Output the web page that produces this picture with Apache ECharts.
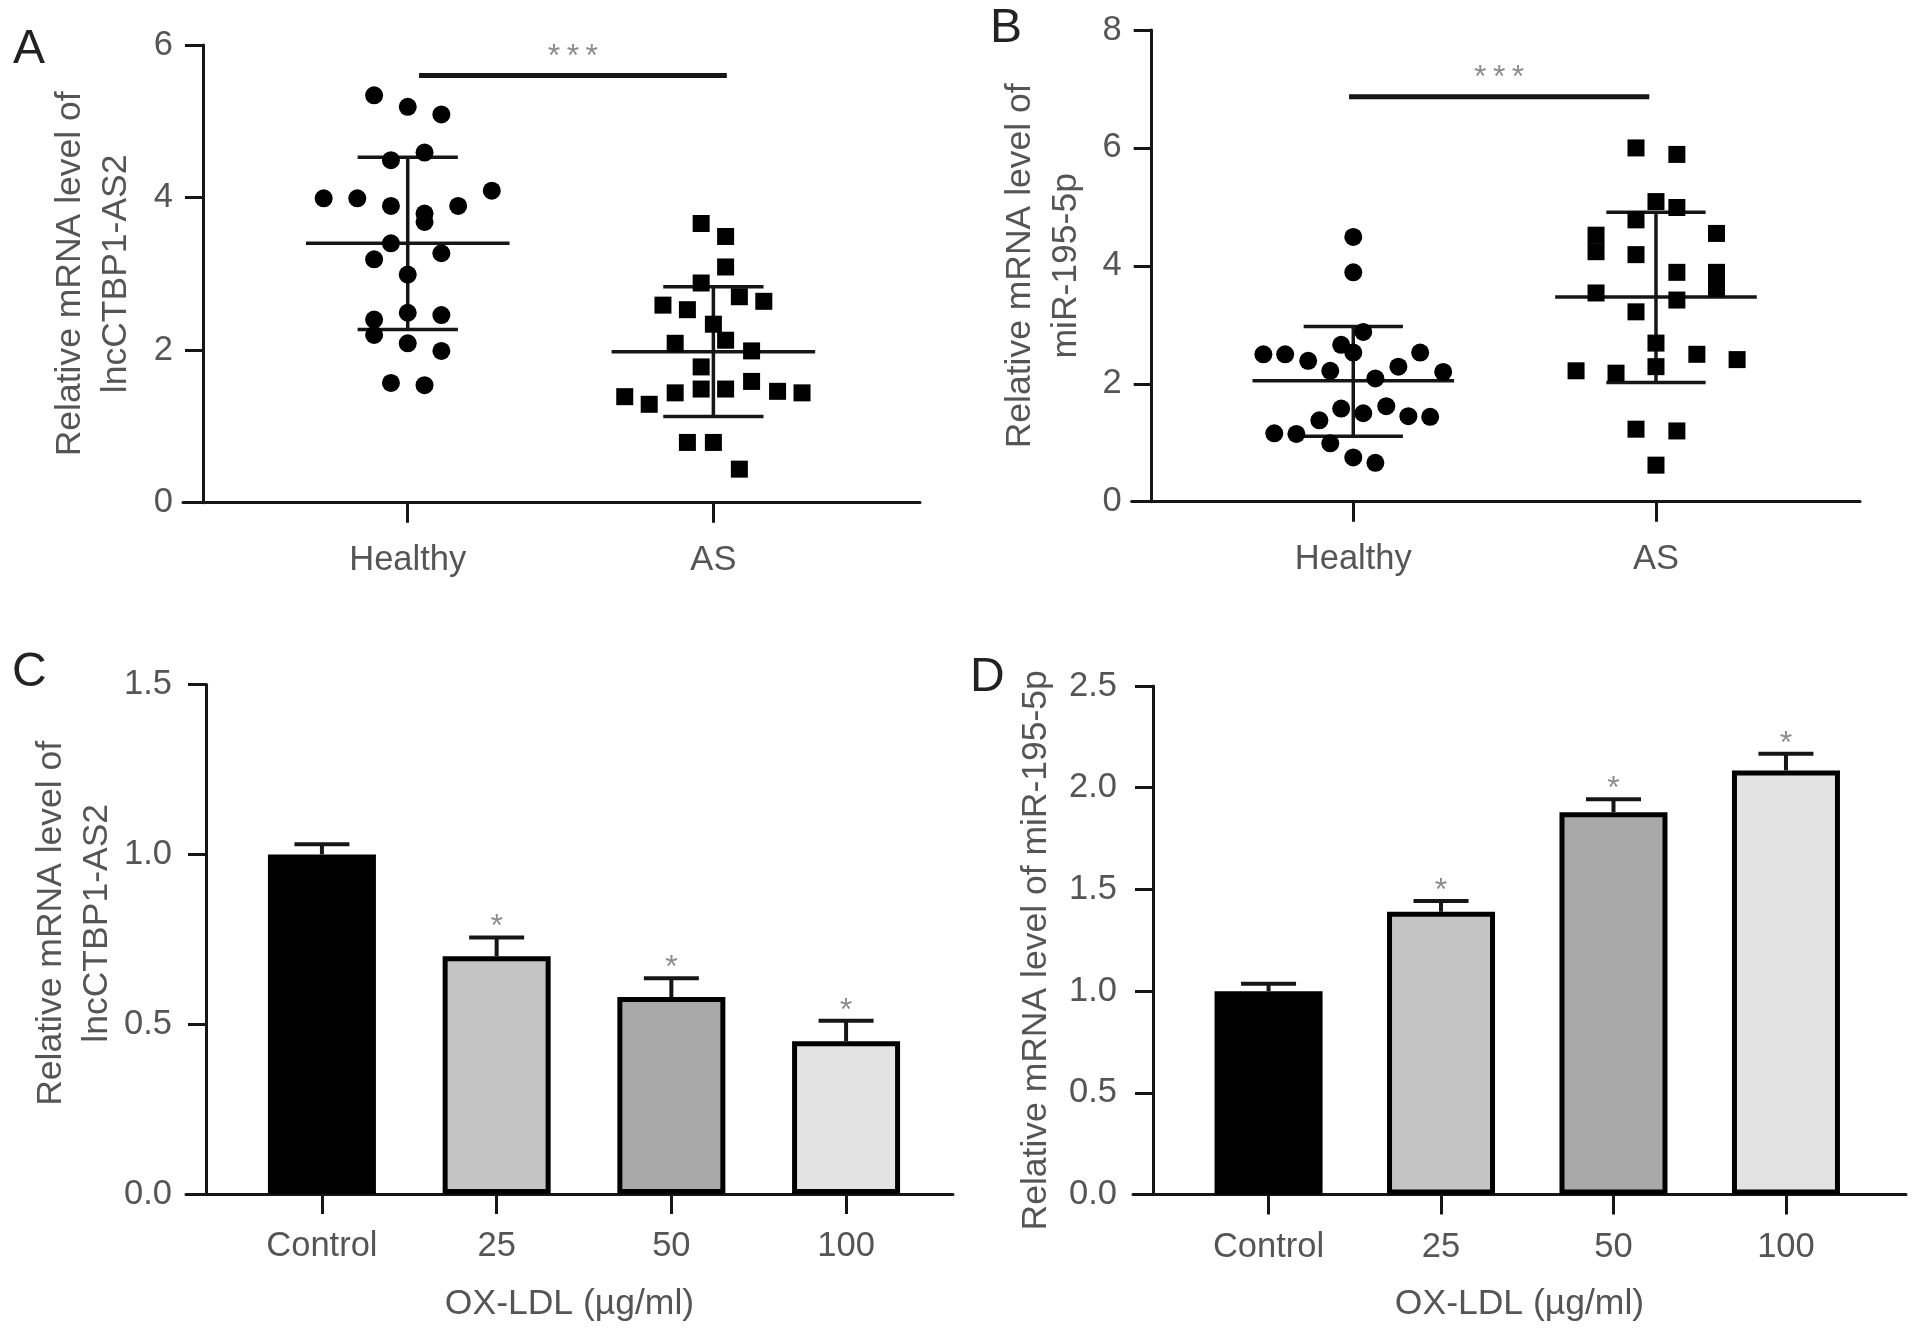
<!DOCTYPE html>
<html><head><meta charset="utf-8">
<script src="https://cdn.jsdelivr.net/npm/echarts@6/dist/echarts.min.js"></script>
<style>html,body{margin:0;padding:0;background:#fff}#c{width:1913px;height:1336px}</style>
</head><body><div id="c"></div>
<script>
// ---------- data ----------
const groupNames = ['Healthy', 'AS'];

// Panel A: lncCTBP1-AS2 (x = group position incl. jitter, y = value)
const aHealthyX = [0.89,1.00,1.11,1.055,0.945,0.725,0.835,1.275,0.945,1.165,1.055,1.055,0.945,0.89,1.11,1.00,1.00,1.11,0.89,0.89,1.00,1.11,0.945,1.055];
const aHealthyY = [5.34,5.19,5.09,4.59,4.49,3.99,3.99,4.09,3.89,3.89,3.79,3.68,3.40,3.19,3.27,2.99,2.49,2.46,2.40,2.20,2.09,1.99,1.57,1.54];
const aASX = [1.96,2.04,2.04,1.96,1.835,1.915,2.085,2.165,2.00,2.04,1.875,2.125,1.96,1.71,1.79,1.875,1.96,2.04,2.125,2.21,2.29,1.915,2.00,2.085];
const aASY = [3.66,3.49,3.09,2.88,2.59,2.53,2.70,2.64,2.34,2.13,2.09,1.99,1.78,1.39,1.29,1.44,1.49,1.49,1.59,1.46,1.44,0.79,0.79,0.44];
// [group, mean, mean-SD, mean+SD]
const aStats = [[1, 3.40, 2.27, 4.53], [2, 1.98, 1.13, 2.83]];
const aSig = [[1.037, 2.044, 5.6, '***']];

// Panel B: miR-195-5p
const bHealthyX = [1.00,1.00,1.033,0.96,1.00,0.703,0.775,0.851,0.924,1.149,1.221,1.297,1.073,0.96,1.033,1.109,0.888,1.182,1.254,0.739,0.812,0.924,1.00,1.073];
const bHealthyY = [4.49,3.89,2.88,2.66,2.53,2.50,2.50,2.39,2.22,2.29,2.53,2.20,2.09,1.58,1.50,1.62,1.38,1.45,1.44,1.16,1.15,0.99,0.75,0.66];
const bASX = [1.934,2.069,2.00,2.069,1.934,1.802,1.802,2.20,1.934,2.069,2.20,2.20,1.802,2.069,1.934,2.00,2.135,2.268,1.736,1.868,2.00,1.934,2.069,2.00];
const bASY = [6.00,5.89,5.09,4.99,4.78,4.52,4.24,4.55,4.19,3.89,3.89,3.62,3.54,3.42,3.22,2.69,2.50,2.41,2.22,2.18,2.29,1.23,1.20,0.62];
const bStats = [[1, 2.05, 1.11, 2.97], [2, 3.47, 2.02, 4.91]];
const bSig = [[0.986, 1.978, 6.87, '***']];

// Panels C/D: OX-LDL dose
const doseLabels = ['Control', '25', '50', '100'];
const cMeans = [1.00, 0.70, 0.58, 0.45];
const cUpper = [1.03, 0.755, 0.635, 0.51];
const dMeans = [1.00, 1.39, 1.88, 2.085];
const dUpper = [1.037, 1.443, 1.943, 2.167];
const starMarks = ['', '*', '*', '*'];
const barColors = ['#000000', '#c4c4c4', '#a9a9a9', '#e3e3e3'];

const yTitleA = 'Relative mRNA level of\nlncCTBP1-AS2';
const yTitleB = 'Relative mRNA level of\nmiR-195-5p';
const yTitleC = 'Relative mRNA level of\nlncCTBP1-AS2';
const yTitleD = 'Relative mRNA level of miR-195-5p';
const xTitleCD = 'OX-LDL (\u00b5g/ml)';

// ---------- style ----------
const FONT = 'Liberation Sans, Arial, sans-serif';
const TXT = '#555555';
const INK = '#161616';
const FS = 34.5;
const NFS = 35.5;

const zip = (xs, ys) => xs.map((x, i) => [x, ys[i]]);

function meanSd(params, api) {
  const x = api.value(0), m = api.value(1), lo = api.value(2), hi = api.value(3);
  const MHW = 0.333, CHW = 0.164;
  const s = {stroke: INK, lineWidth: 3.5};
  const L = (a, b) => ({type: 'line', shape: {x1: a[0], y1: a[1], x2: b[0], y2: b[1]}, style: s});
  return {type: 'group', children: [
    L(api.coord([x - MHW, m]), api.coord([x + MHW, m])),
    L(api.coord([x, lo]), api.coord([x, hi])),
    L(api.coord([x - CHW, lo]), api.coord([x + CHW, lo])),
    L(api.coord([x - CHW, hi]), api.coord([x + CHW, hi]))
  ]};
}
function sigBar(params, api) {
  const p1 = api.coord([api.value(0), api.value(2)]);
  const p2 = api.coord([api.value(1), api.value(2)]);
  return {type: 'group', children: [
    {type: 'line', shape: {x1: p1[0], y1: p1[1], x2: p2[0], y2: p2[1]}, style: {stroke: INK, lineWidth: 5}},
    {type: 'text', x: (p1[0] + p2[0]) / 2, y: p1[1] - 2,
     style: {text: '*\u2009*\u2009*', fill: '#8c8c8c', fontSize: 32, fontFamily: FONT, align: 'center', verticalAlign: 'bottom'}}
  ]};
}
function barErr(params, api) {
  const i = api.value(0), m = api.value(1), u = api.value(2);
  const star = starMarks[params.dataIndex];
  const pm = api.coord([i, m]), pu = api.coord([i, u]);
  const s = {stroke: INK, lineWidth: 4};
  const ch = [
    {type: 'line', shape: {x1: pm[0], y1: pm[1], x2: pu[0], y2: pu[1]}, style: s},
    {type: 'line', shape: {x1: pu[0] - 27.5, y1: pu[1], x2: pu[0] + 27.5, y2: pu[1]}, style: s}
  ];
  if (star) ch.push({type: 'text', x: pu[0], y: pu[1] + 6,
    style: {text: star, fill: '#8c8c8c', fontSize: 32, fontFamily: FONT, align: 'center', verticalAlign: 'bottom'}});
  return {type: 'group', children: ch};
}

function yAx(idx, max, interval, name, gap, dec, margin, pad) {
  return {
    gridIndex: idx, type: 'value', min: 0, max: max, interval: interval, offset: -20,
    axisLine: {show: true, onZero: false, lineStyle: {color: INK, width: 3}},
    axisTick: {show: true, length: 18, lineStyle: {color: INK, width: 3}},
    axisLabel: {margin: margin, fontSize: FS, color: TXT, fontFamily: FONT,
      formatter: v => dec ? v.toFixed(1) : String(v)},
    splitLine: {show: false},
    name: name, nameLocation: 'middle', nameGap: gap,
    nameTextStyle: {fontSize: NFS, color: TXT, fontFamily: FONT, lineHeight: 46, padding: pad || 0}
  };
}
function xAx(idx, min, max, ticks, labels, name, margin) {
  return {
    gridIndex: idx, type: 'value', min: min, max: max,
    axisLine: {show: true, onZero: false, lineStyle: {color: INK, width: 3}},
    axisTick: {show: true, customValues: ticks, length: 20, lineStyle: {color: INK, width: 3}},
    axisLabel: {customValues: ticks, margin: margin, fontSize: FS, color: TXT, fontFamily: FONT,
      formatter: v => labels[Math.round(v - ticks[0])]},
    splitLine: {show: false},
    name: name || '', nameLocation: 'middle', nameGap: 92,
    nameTextStyle: {fontSize: NFS, color: TXT, fontFamily: FONT}
  };
}

const chart = echarts.init(document.getElementById('c'), null, {renderer: 'canvas'});
chart.setOption({
  animation: false,
  backgroundColor: '#ffffff',
  grid: [
    {left: 183, top: 45, width: 737, height: 457.7},
    {left: 1131.7, top: 30, width: 728.3, height: 471.7},
    {left: 186, top: 684.6, width: 767, height: 509.4},
    {left: 1133, top: 686, width: 773, height: 508.6}
  ],
  xAxis: [
    xAx(0, 0.2647, 2.676, [1, 2], groupNames, '', 40),
    xAx(1, 0.268, 2.674, [1, 2], groupNames, '', 40),
    xAx(2, -0.778, 3.612, [0, 1, 2, 3], doseLabels, xTitleCD, 35),
    xAx(3, -0.786, 3.696, [0, 1, 2, 3], doseLabels, xTitleCD, 35)
  ],
  yAxis: [
    yAx(0, 6, 2, yTitleA, 64, false, 30),
    yAx(1, 8, 2, yTitleB, 62, false, 30),
    yAx(2, 1.5, 0.5, yTitleC, 84, true, 34, [0, 0, 0, 32]),
    yAx(3, 2.5, 0.5, yTitleD, 94, true, 36, [0, 20, 0, 0])
  ],
  graphic: [
    {type: 'text', left: 13, top: 26, style: {text: 'A', fontSize: 48, fill: '#222', fontFamily: FONT}},
    {type: 'text', left: 990, top: 5, style: {text: 'B', fontSize: 48, fill: '#222', fontFamily: FONT}},
    {type: 'text', left: 12, top: 649, style: {text: 'C', fontSize: 48, fill: '#222', fontFamily: FONT}},
    {type: 'text', left: 970, top: 654, style: {text: 'D', fontSize: 48, fill: '#222', fontFamily: FONT}}
  ],
  series: [
    {type: 'custom', xAxisIndex: 0, yAxisIndex: 0, data: aStats, renderItem: meanSd, z: 3},
    {type: 'custom', xAxisIndex: 0, yAxisIndex: 0, data: aSig, renderItem: sigBar, z: 3},
    {type: 'scatter', xAxisIndex: 0, yAxisIndex: 0, data: zip(aHealthyX, aHealthyY), symbol: 'circle', symbolSize: 18, itemStyle: {color: '#000', opacity: 1}, z: 4},
    {type: 'scatter', xAxisIndex: 0, yAxisIndex: 0, data: zip(aASX, aASY), symbol: 'rect', symbolSize: 17, itemStyle: {color: '#000', opacity: 1}, z: 4},

    {type: 'custom', xAxisIndex: 1, yAxisIndex: 1, data: bStats, renderItem: meanSd, z: 3},
    {type: 'custom', xAxisIndex: 1, yAxisIndex: 1, data: bSig, renderItem: sigBar, z: 3},
    {type: 'scatter', xAxisIndex: 1, yAxisIndex: 1, data: zip(bHealthyX, bHealthyY), symbol: 'circle', symbolSize: 18, itemStyle: {color: '#000', opacity: 1}, z: 4},
    {type: 'scatter', xAxisIndex: 1, yAxisIndex: 1, data: zip(bASX, bASY), symbol: 'rect', symbolSize: 17, itemStyle: {color: '#000', opacity: 1}, z: 4},

    {type: 'bar', xAxisIndex: 2, yAxisIndex: 2, barWidth: 108,
     data: cMeans.map((v, i) => ({value: [i, v], itemStyle: {color: barColors[i]}})),
     itemStyle: {borderColor: '#000', borderWidth: 5}, z: 2},
    {type: 'custom', xAxisIndex: 2, yAxisIndex: 2, data: cMeans.map((v, i) => [i, v, cUpper[i]]), renderItem: barErr, z: 3},

    {type: 'bar', xAxisIndex: 3, yAxisIndex: 3, barWidth: 108,
     data: dMeans.map((v, i) => ({value: [i, v], itemStyle: {color: barColors[i]}})),
     itemStyle: {borderColor: '#000', borderWidth: 5}, z: 2},
    {type: 'custom', xAxisIndex: 3, yAxisIndex: 3, data: dMeans.map((v, i) => [i, v, dUpper[i]]), renderItem: barErr, z: 3}
  ]
});
</script>
</body></html>
